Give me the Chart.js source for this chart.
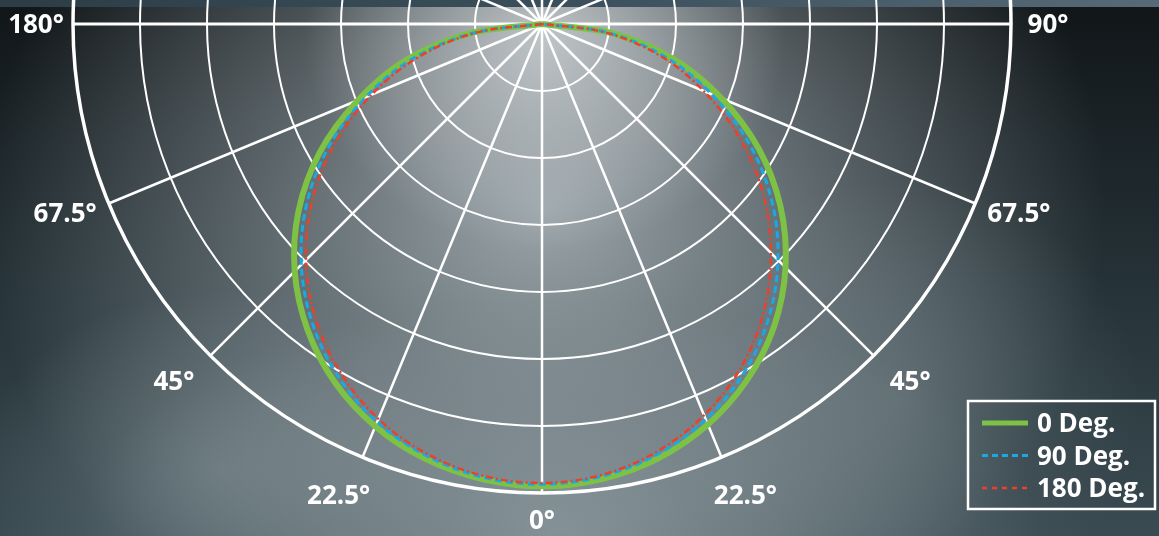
<!DOCTYPE html>
<html>
<head>
<meta charset="utf-8">
<script src="https://cdn.jsdelivr.net/npm/chart.js@4.4.0/dist/chart.umd.min.js"></script>
<style>
  html, body { margin: 0; padding: 0; }
  body {
    width: 1159px; height: 536px; overflow: hidden;
    background:
      linear-gradient(to right, #2c3d47, #3b505c 50%, #566b77) top / 100% 7px no-repeat,
      radial-gradient(ellipse 240px 210px at 545px 40px, rgba(205,210,212,0.85), rgba(205,210,212,0)),
      radial-gradient(ellipse 560px 500px at 545px 210px, rgba(160,170,175,0.95), rgba(160,170,175,0)),
      radial-gradient(ellipse 480px 230px at 560px 530px, rgba(128,142,148,0.85), rgba(128,142,148,0)),
      radial-gradient(ellipse 240px 180px at 220px 470px, rgba(112,128,134,0.65), rgba(112,128,134,0)),
      radial-gradient(ellipse 240px 220px at 900px 400px, rgba(100,116,122,0.55), rgba(100,116,122,0)),
      linear-gradient(to bottom, #111618 0%, #263338 55%, #3a4b51 100%);
  }
  #wrap { position: relative; width: 1159px; height: 536px; }
</style>
</head>
<body>
<div id="wrap"><canvas id="chart"></canvas></div>
<script>
// angles in degrees, negative = left half
const ANGLES = [-90, -82.5, -75, -67.5, -60, -52.5, -45, -37.5, -30, -22.5, -15, -7.5, 0,
                7.5, 15, 22.5, 30, 37.5, 45, 52.5, 60, 67.5, 75, 82.5, 90];
const DEG_0   = [0, 110, 212, 297, 383, 458, 522, 575, 618, 650, 672, 685, 690,
                 685, 671, 647, 613, 569, 514, 449, 374, 290, 204, 106, 0];
const DEG_90  = [0, 103, 200, 284, 368, 443, 508, 563, 608, 643, 667, 682, 687,
                 681, 665, 639, 602, 555, 498, 432, 357, 274, 191, 99, 0];
const DEG_180 = [0, 99, 191, 275, 357, 432, 498, 555, 601, 638, 664, 680, 685,
                 679, 661, 632, 593, 543, 483, 416, 341, 261, 182, 94, 0];

const SERIES_NAMES = ['0 Deg.', '90 Deg.', '180 Deg.'];
const RINGS = [100, 200, 300, 400, 500, 600, 700];
const SPOKE_STEP = 22.5;
const LABEL_ANGLES = [-90, -67.5, -45, -22.5, 0, 22.5, 45, 67.5, 90];
const LABEL_TEXT = ['180°', '67.5°', '45°', '22.5°', '0°', '22.5°', '45°', '67.5°', '90°'];

const COLORS = ['#7dc245', '#1ca8e2', '#ec4128'];
const FONT = 'bold 26px "Open Sans", Roboto, sans-serif';

// px per unit, centre at (542, 24)
const K = 469 / 700;
const CX = 542, CY = 24, W = 1159, H = 536;

function toPoints(values) {
    return values.map((r, i) => {
        let a = ANGLES[i] * Math.PI / 180;
        return { x: r * Math.sin(a), y: -r * Math.cos(a) };
    });
}

const polarGrid = {
    id: 'polarGrid',
    beforeDatasetsDraw(chart) {
        const { ctx, scales: { x, y } } = chart;
        const cx = x.getPixelForValue(0), cy = y.getPixelForValue(0);
        const outer = x.getPixelForValue(RINGS[RINGS.length - 1]) - cx;
        ctx.save();
        ctx.strokeStyle = '#ffffff';
        RINGS.forEach((r, i) => {
            ctx.lineWidth = i === RINGS.length - 1 ? 3.5 : 2;
            ctx.beginPath();
            ctx.arc(cx, cy, x.getPixelForValue(r) - cx, 0, Math.PI * 2);
            ctx.stroke();
        });
        for (let a = 0; a < 360; a += SPOKE_STEP) {
            let rad = a * Math.PI / 180;
            ctx.lineWidth = (a === 90 || a === 270) ? 3 : 2.5;
            ctx.beginPath();
            ctx.moveTo(cx, cy);
            ctx.lineTo(cx + outer * Math.sin(rad), cy + outer * Math.cos(rad));
            ctx.stroke();
        }
        ctx.restore();
    },
    afterDraw(chart) {
        const { ctx, scales: { x, y } } = chart;
        const cx = x.getPixelForValue(0), cy = y.getPixelForValue(0);
        const outer = x.getPixelForValue(RINGS[RINGS.length - 1]) - cx;
        ctx.save();
        ctx.font = FONT;
        ctx.fillStyle = '#ffffff';
        ctx.textAlign = 'center';
        ctx.textBaseline = 'alphabetic';
        LABEL_TEXT.forEach((t, i) => {
            let rad = LABEL_ANGLES[i] * Math.PI / 180;
            let s = Math.abs(Math.sin(rad));
            let gap = s < 0.01 ? 27 : (s > 0.99 ? 37 : 44);
            // nudge slightly away from the spoke, as in the original
            let a2 = rad + Math.sign(rad) * (s > 0.99 || s < 0.01 ? 0 : 0.015);
            let px = cx + (outer + gap) * Math.sin(a2);
            let py = cy + (outer + gap) * Math.cos(a2);
            ctx.fillText(t, px, py + 9);
        });

        // legend box
        ctx.lineWidth = 2.5;
        ctx.strokeStyle = '#ffffff';
        ctx.strokeRect(968, 401, 187, 108);
        const dashes = [[], [6, 4], [5, 5]];
        const widths = [5, 3, 2.5];
        ctx.textAlign = 'left';
        SERIES_NAMES.forEach((name, i) => {
            let ly = 423 + i * 32.5;
            ctx.beginPath();
            ctx.setLineDash(dashes[i]);
            ctx.lineWidth = widths[i];
            ctx.strokeStyle = COLORS[i];
            ctx.moveTo(982, ly);
            ctx.lineTo(1028, ly);
            ctx.stroke();
            ctx.setLineDash([]);
            ctx.fillText(name, 1037, ly + 9);
        });
        ctx.restore();
    }
};

new Chart(document.getElementById('chart'), {
    type: 'scatter',
    data: {
        datasets: [
            { label: SERIES_NAMES[0], data: toPoints(DEG_0), borderColor: COLORS[0], borderWidth: 6, order: 3 },
            { label: SERIES_NAMES[1], data: toPoints(DEG_90), borderColor: COLORS[1], borderWidth: 3, borderDash: [7, 4], order: 2 },
            { label: SERIES_NAMES[2], data: toPoints(DEG_180), borderColor: COLORS[2], borderWidth: 2.5, borderDash: [7, 3, 2, 3], order: 1 }
        ].map(d => Object.assign(d, { showLine: true, pointRadius: 0, tension: 0.35, fill: false }))
    },
    options: {
        responsive: true,
        maintainAspectRatio: false,
        animation: false,
        events: [],
        layout: { padding: 0 },
        scales: {
            x: { type: 'linear', display: false, min: -CX / K, max: (W - CX) / K },
            y: { type: 'linear', display: false, min: -(H - CY) / K, max: CY / K }
        },
        plugins: { legend: { display: false }, tooltip: { enabled: false } }
    },
    plugins: [polarGrid]
});
</script>
</body>
</html>
